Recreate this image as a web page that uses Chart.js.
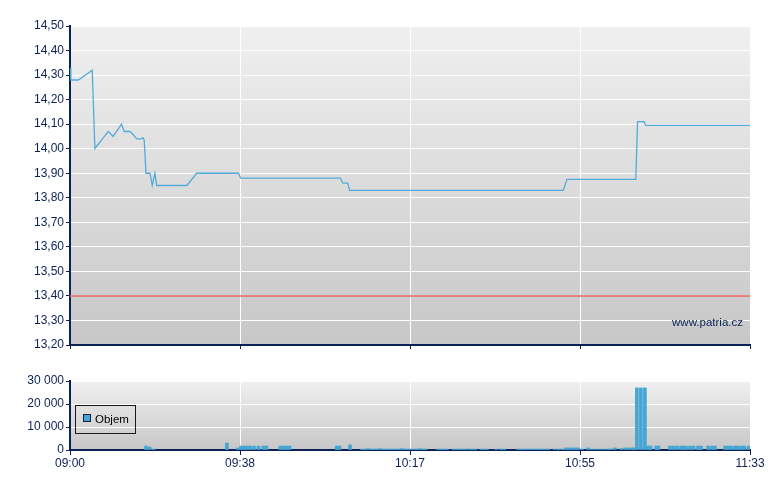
<!DOCTYPE html>
<html>
<head>
<meta charset="utf-8">
<script src="https://cdn.jsdelivr.net/npm/chart.js@4.4.0/dist/chart.umd.min.js"></script>
<style>
  body { margin: 0; background: #fff; }
  #wrap { position: relative; width: 780px; height: 490px; }
  canvas { position: absolute; left: 0; }
  #price { top: 0; }
  #volume { top: 360px; }
</style>
</head>
<body>
<div id="wrap">
  <canvas id="price" width="780" height="360"></canvas>
  <canvas id="volume" width="780" height="130"></canvas>
</div>
<script>
// x values are minutes after 09:00
const timeLabels = ['09:00', '09:38', '10:17', '10:55', '11:33'];
const sessionLength = 153;

const priceMinutes = [0, 0.2, 1.9, 5.0, 5.6, 6.0, 7.3, 8.6, 9.7, 11.6,
  12.2, 13.5, 14.1, 15.0, 16.0, 16.4, 16.7, 17.1, 18.0, 18.5,
  19.1, 19.5, 26.3, 28.5, 37.9, 38.4, 60.8, 61.4, 62.5, 62.9,
  111.0, 111.8, 127.3, 127.7, 129.2, 129.5, 153];
const prices = [14.33, 14.28, 14.28, 14.32, 14.00, 14.01, 14.04, 14.07, 14.05, 14.10,
  14.07, 14.07, 14.06, 14.04, 14.04, 14.045, 14.035, 13.90, 13.90, 13.85,
  13.90, 13.85, 13.85, 13.90, 13.90, 13.88, 13.88, 13.86, 13.86, 13.83,
  13.83, 13.875, 13.875, 14.11, 14.11, 14.095, 14.095];
const refPrice = 13.40;

const volMinutes = [17.1, 17.9, 18.8,
  35.3, 37.7, 38.5, 39.2, 39.8, 40.5, 41.4, 42.4, 43.5, 44.2,
  47.3, 48.0, 48.7, 49.4,
  60.0, 60.6, 63.0,
  65.7, 66.4, 67.1, 67.8, 68.4, 69.1, 69.8, 70.5, 71.2, 71.9, 72.5,
  73.2, 73.9, 74.6, 75.3, 76.0, 76.6, 77.3, 78.0, 78.7, 79.4, 80.0,
  82.8, 83.5, 84.2, 84.8, 86.3, 86.9, 87.6, 88.3, 89.0, 89.9, 90.6, 91.2,
  92.6, 93.3, 93.8, 95.9, 97.0, 97.7,
  100.8, 101.5, 102.2, 102.8, 103.5, 104.2, 104.9, 105.5, 106.2, 106.9, 107.6,
  109.1, 110.0, 110.9,
  111.6, 112.3, 112.9, 113.6, 114.3,
  115.2, 116.6, 117.5, 118.4, 119.3, 120.2, 121.1, 121.7, 122.6,
  124.0, 124.9, 125.8, 126.5, 127.0,
  127.55, 128.45, 129.35,
  130.0, 130.6, 131.9, 132.4,
  135.0, 135.8, 136.6, 137.5, 138.0, 138.6, 139.5, 140.3, 141.3, 142.0,
  143.6, 144.5, 145.1, 147.4, 148.1, 148.7, 149.6, 150.2, 151.0, 151.7, 152.7];
const volumes = [1700, 1300, 400,
  3000, 900, 1700, 1700, 1700, 1700, 1700, 1700, 1700, 1700,
  1700, 1700, 1700, 1700,
  1700, 1700, 2200,
  400, 400, 600, 400, 400, 400, 600, 400, 400, 400, 400,
  400, 400, 600, 400, 400, 400, 400, 400, 600, 400, 400,
  400, 400, 400, 400, 400, 400, 400, 400, 400, 400, 400, 400,
  400, 400, 400, 400, 400, 400,
  400, 400, 400, 400, 400, 400, 400, 400, 400, 400, 400,
  400, 400, 400,
  900, 900, 900, 900, 900,
  400, 900, 400, 400, 400, 400, 400, 400, 900,
  600, 900, 900, 900, 900,
  27000, 27000, 27000,
  1700, 1700, 1700, 1700,
  1700, 1700, 1700, 1700, 1700, 1700, 1700, 1700, 1700, 1700,
  1700, 1700, 1700, 1700, 1700, 1700, 1700, 1700, 1700, 1700, 1700];

const navy = '#0c2256';
const blue = '#46a6d3';

Chart.defaults.font.family = '"Liberation Sans", Arial, sans-serif';
Chart.defaults.font.size = 12;
Chart.defaults.animation = false;

//grey gradient behind the plot area
const plotBg = {
  id: 'plotBg',
  beforeDraw(chart) {
    const { ctx, chartArea: a } = chart;
    const g = ctx.createLinearGradient(0, a.top, 0, a.bottom);
    g.addColorStop(0, '#f0f0f0');
    g.addColorStop(1, '#c7c7c7');
    ctx.save();
    ctx.fillStyle = g;
    ctx.fillRect(a.left, a.top, a.right - a.left, a.bottom - a.top);
    ctx.restore();
  }
};

function timeAxis(showLabels) {
  return {
    type: 'linear',
    min: 0,
    max: sessionLength,
    offset: false,
    afterBuildTicks: s => {
      s.ticks = timeLabels.map((t, i) => ({ value: i * sessionLength / (timeLabels.length - 1) }));
    },
    grid: { color: '#ffffff', lineWidth: 1, tickColor: navy, tickLength: showLabels ? 5 : 4, offset: false },
    border: { color: navy, width: 2 },
    ticks: {
      display: showLabels, color: navy, padding: 1, maxRotation: 0, autoSkip: false,
      callback: (v, i) => timeLabels[i]
    },
    afterFit: s => { s.height = showLabels ? 25 : 10; }
  };
}

function valueAxis(min, max, step, fmt) {
  return {
    min: min,
    max: max,
    ticks: { stepSize: step, color: navy, padding: 2, callback: fmt },
    grid: { color: '#ffffff', lineWidth: 1, tickColor: navy, tickLength: 4 },
    border: { color: navy, width: 2 },
    afterFit: s => { s.width = 70; }
  };
}

//PRICE
const watermark = {
  id: 'watermark',
  afterDraw(chart) {
    const { ctx, chartArea: a } = chart;
    ctx.save();
    ctx.font = '11.5px "Liberation Sans", Arial, sans-serif';
    ctx.fillStyle = navy;
    ctx.textAlign = 'right';
    ctx.textBaseline = 'middle';
    ctx.fillText('www.patria.cz', a.right - 7, a.bottom - 22);
    ctx.restore();
  }
};

new Chart(document.getElementById('price'), {
  type: 'line',
  plugins: [plotBg, watermark],
  data: {
    datasets: [
      {
        data: [{ x: 0, y: refPrice }, { x: sessionLength, y: refPrice }],
        borderColor: 'rgba(232, 110, 110, 0.85)',
        borderWidth: 2,
        pointRadius: 0
      },
      {
        data: priceMinutes.map((m, i) => ({ x: m, y: prices[i] })),
        borderColor: '#52acd9',
        borderWidth: 1.3,
        pointRadius: 0,
        tension: 0
      }
    ]
  },
  options: {
    responsive: false,
    layout: { padding: { top: 26, right: 30, bottom: 5, left: 0 } },
    plugins: { legend: { display: false }, tooltip: { enabled: false } },
    scales: {
      x: timeAxis(false),
      y: valueAxis(13.2, 14.5, 0.1, v => v.toFixed(2).replace('.', ','))
    }
  }
});

//VOLUME
const boxLegend = {
  id: 'boxLegend',
  afterDraw(chart) {
    const { ctx } = chart;
    ctx.save();
    ctx.strokeStyle = '#1a1a1a';
    ctx.lineWidth = 1;
    ctx.strokeRect(75.5, 45.5, 60, 28);
    ctx.fillStyle = blue;
    ctx.fillRect(83, 54, 8, 8);
    ctx.strokeStyle = '#10203a';
    ctx.strokeRect(83.5, 54.5, 7, 7);
    ctx.fillStyle = '#000';
    ctx.font = '11.5px "Liberation Sans", Arial, sans-serif';
    ctx.textBaseline = 'middle';
    ctx.fillText(chart.data.datasets[0].label, 95, 59.5);
    ctx.restore();
  }
};

new Chart(document.getElementById('volume'), {
  type: 'bar',
  plugins: [plotBg, boxLegend],
  data: {
    datasets: [{
      label: 'Objem',
      data: volMinutes.map((m, i) => ({ x: m, y: volumes[i] })),
      backgroundColor: blue,
      barThickness: 3
    }]
  },
  options: {
    responsive: false,
    layout: { padding: { top: 21, right: 30, bottom: 15, left: 0 } },
    plugins: { legend: { display: false }, tooltip: { enabled: false } },
    scales: {
      x: timeAxis(true),
      y: valueAxis(0, 30000, 10000, v => String(v).replace(/\B(?=(\d{3})+(?!\d))/g, ' '))
    }
  }
});
</script>
</body>
</html>
